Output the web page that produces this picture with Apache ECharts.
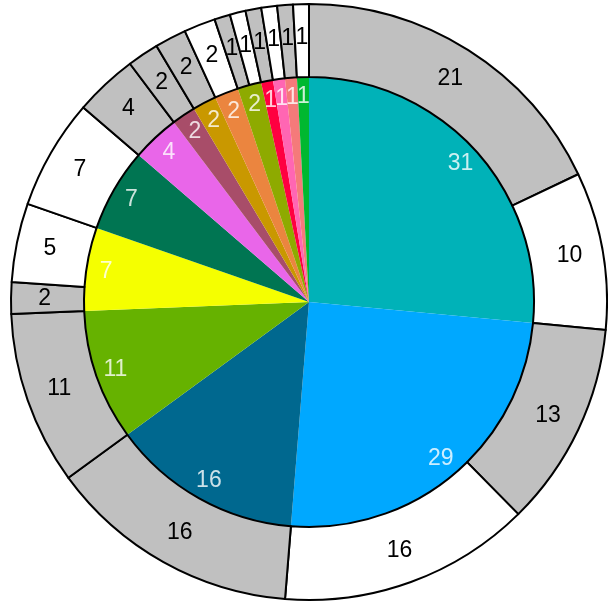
<!DOCTYPE html>
<html>
<head>
<meta charset="utf-8">
<script src="https://cdn.jsdelivr.net/npm/echarts@6/dist/echarts.min.js"></script>
<style>html,body{margin:0;padding:0;background:#fff;}#c{width:608px;height:604px;}</style>
</head>
<body>
<div id="c"></div>
<script>
// Inner pie values (clockwise from 12 o'clock)
var innerValues = [31, 29, 16, 11, 7, 7, 4, 2, 2, 2, 2, 1, 1, 1, 1];
// Outer ring values (clockwise from 12 o'clock)
var outerValues = [21, 10, 13, 16, 16, 11, 2, 5, 7, 4, 2, 2, 2, 1, 1, 1, 1, 1, 1];

var innerColors = ['#00b2b8', '#00a8ff', '#00688f', '#66b200', '#f5ff00', '#007552',
  '#e966e9', '#a84d69', '#c99800', '#eb853f', '#8eaa00', '#ff0040', '#ff66b3', '#f57a7a', '#00b830'];
var G = '#c0c0c0', W = '#ffffff';
var outerColors = [G, W, G, W, G, G, G, W, W, G, G, G, W, G, W, G, W, G, W];

var chart = echarts.init(document.getElementById('c'), null, {renderer: 'canvas'});
var font = 'Liberation Sans, Arial, sans-serif';
var center = [309, 302];
var R_OUT = 298, R_IN = 225, R_LABEL = 205;

var total = innerValues.reduce(function (a, b) { return a + b; }, 0);
// label anchors for inner slices: mid-angle of each slice, in value units of the angle axis
var cum = 0;
var innerLabelData = innerValues.map(function (v) {
  var mid = cum + v / 2; cum += v;
  return {value: [R_LABEL, mid], label: {formatter: String(v)}};
});

chart.setOption({
  animation: false,
  polar: {center: center, radius: R_OUT},
  angleAxis: {type: 'value', min: 0, max: total, startAngle: 90, clockwise: true, show: false},
  radiusAxis: {type: 'value', min: 0, max: R_OUT, show: false},
  series: [
    {
      type: 'pie', silent: true, center: center, radius: [0, R_IN],
      startAngle: 90, clockwise: true, avoidLabelOverlap: false,
      label: {show: false}, labelLine: {show: false},
      itemStyle: {borderWidth: 0},
      data: innerValues.map(function (v, i) { return {value: v, itemStyle: {color: innerColors[i]}}; })
    },
    {
      type: 'pie', silent: true, center: center, radius: [R_IN, R_OUT],
      startAngle: 90, clockwise: true, avoidLabelOverlap: false,
      labelLine: {show: false},
      itemStyle: {borderColor: '#000000', borderWidth: 2},
      label: {show: true, position: 'inside', color: '#000000', fontFamily: font, fontSize: 23,
        textBorderWidth: 0, formatter: function (p) { return p.value; }},
      data: outerValues.map(function (v, i) { return {value: v, itemStyle: {color: outerColors[i]}}; })
    },
    {
      type: 'scatter', coordinateSystem: 'polar', silent: true, z: 10,
      symbolSize: 1, itemStyle: {color: 'rgba(0,0,0,0)'},
      label: {show: true, position: 'inside', color: '#ffffff', fontFamily: font, fontSize: 23,
        textBorderWidth: 0, textBorderColor: 'transparent'},
      data: innerLabelData
    }
  ]
});
</script>
</body>
</html>
